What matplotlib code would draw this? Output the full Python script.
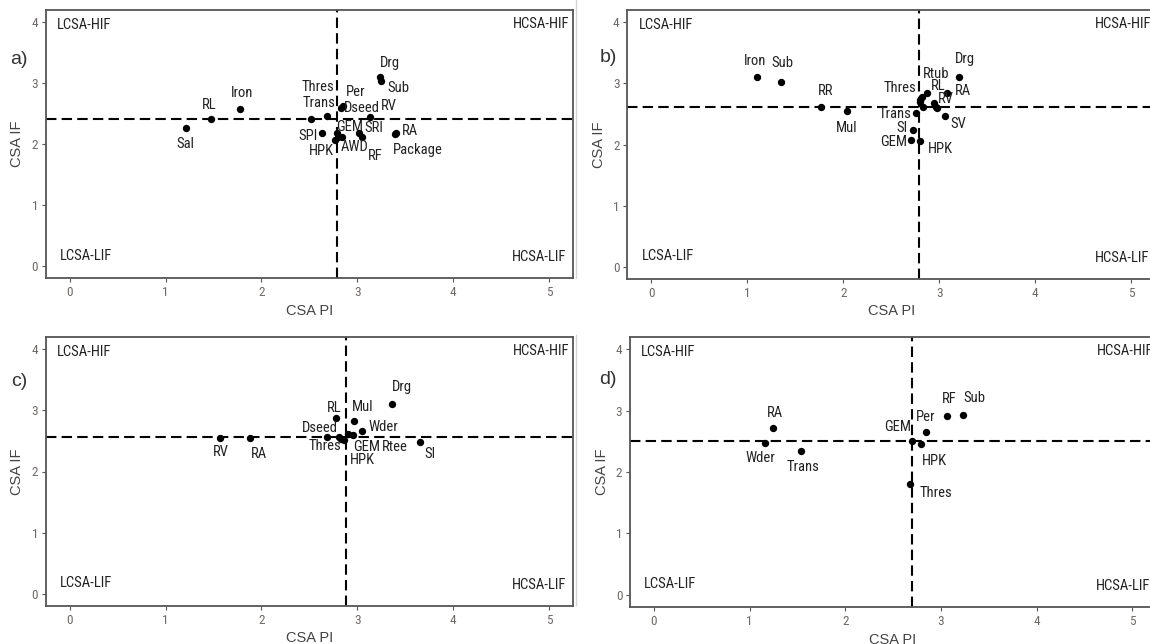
import matplotlib
matplotlib.use("Agg")
import matplotlib.pyplot as plt
from matplotlib import font_manager
from matplotlib.lines import Line2D

# ---------------- data ----------------
a_labels = ["Sal", "RL", "Iron", "Thres", "Trans", "Per", "Dseed", "SPI", "HPK", "GEM",
            "AWD", "SRI", "RF", "RV", "Drg", "Sub", "RA", "Package", ""]
a_pi = [1.21, 1.47, 1.78, 2.52, 2.68, 2.85, 2.83, 2.63, 2.77, 2.79,
        2.84, 3.02, 3.05, 3.13, 3.24, 3.25, 3.40, 3.39, 2.80]
a_if = [2.27, 2.41, 2.58, 2.41, 2.47, 2.62, 2.60, 2.18, 2.07, 2.19,
        2.11, 2.18, 2.11, 2.45, 3.11, 3.04, 2.19, 2.17, 2.12]
a_cut = [2.785, 2.41]

b_labels = ["Iron", "Sub", "RR", "Mul", "Drg", "Rtub", "Thres", "RL", "RA", "RV",
            "SV", "Trans", "SI", "GEM", "HPK", "", "", "", ""]
b_pi = [1.10, 1.35, 1.77, 2.04, 3.20, 2.87, 2.80, 2.94, 3.08, 2.98,
        3.06, 2.76, 2.73, 2.71, 2.80, 2.82, 2.80, 2.83, 2.97]
b_if = [3.10, 3.02, 2.62, 2.55, 3.10, 2.85, 2.73, 2.68, 2.85, 2.59,
        2.47, 2.51, 2.24, 2.07, 2.05, 2.78, 2.70, 2.62, 2.62]
b_cut = [2.79, 2.62]

c_labels = ["RV", "RA", "RL", "Mul", "Drg", "Wder", "Dseed", "Thres", "HPK", "GEM",
            "Rtee", "SI", ""]
c_pi = [1.57, 1.88, 2.78, 2.97, 3.36, 3.05, 2.68, 2.81, 2.86, 2.90, 2.96, 3.65, 2.83]
c_if = [2.55, 2.55, 2.88, 2.83, 3.11, 2.66, 2.57, 2.57, 2.52, 2.61, 2.60, 2.49, 2.53]
c_cut = [2.88, 2.57]

d_labels = ["RA", "Wder", "Trans", "GEM", "Per", "HPK", "RF", "Sub", "Thres"]
d_pi = [1.24, 1.16, 1.54, 2.70, 2.84, 2.79, 3.06, 3.23, 2.68]
d_if = [2.72, 2.47, 2.34, 2.51, 2.65, 2.45, 2.91, 2.93, 1.80]
d_cut = [2.70, 2.51]

panel_tags = ["a)", "b)", "c)", "d)"]
quadrant_names = ["LCSA-HIF", "HCSA-HIF", "LCSA-LIF", "HCSA-LIF"]
x_ticks = [0, 1, 2, 3, 4, 5]
y_ticks = [0, 1, 2, 3, 4]

# ---------------- label placement (pixel offsets, right / down) ----------------
a_off = [(0, 16), (-1, -14), (2, -16), (7, -32), (-8, -13), (13, -14), (21, 0), (-14, 3),
         (-14, 11), (13, -6), (13, 10), (15, -5), (13, 19), (19, -11), (10, -14), (17, 7),
         (14, -2), (23, 16), (0, 0)]
b_off = [(-2, -16), (1, -19), (4, -16), (0, 17), (6, -18), (9, -19), (-20, -12), (5, -17),
         (16, -2), (8, -9), (13, 8), (-21, 1), (-11, -2), (-18, 2), (20, 8),
         (0, 0), (0, 0), (0, 0), (0, 0)]
c_off = [(1, 14), (9, 16), (-2, -10), (8, -14), (10, -17), (21, -4), (-7, -9), (-14, 9),
         (19, 20), (19, 13), (41, 12), (10, 12), (0, 0)]
d_off = [(2, -15), (-4, 15), (2, 16), (-15, -14), (0, -15), (14, 17), (3, -17), (11, -17),
         (26, 9)]

# ---------------- fonts ----------------
available = {f.name for f in font_manager.fontManager.ttflist}
narrow = None
for cand in ["Liberation Sans Narrow", "Arial Narrow", "Roboto Condensed",
             "Open Sans Condensed"]:
    if cand in available:
        narrow = cand
        break
if narrow:
    lab_font = [narrow, "DejaVu Sans"]
    lab_size = 10.5
    tick_font = [narrow, "DejaVu Sans"]
    tick_size = 9.5
else:
    lab_font = ["Liberation Sans", "DejaVu Sans"]
    lab_size = 9.2
    tick_font = ["Liberation Sans", "DejaVu Sans"]
    tick_size = 8.0
main_font = ["Liberation Sans", "DejaVu Sans"]
plt.rcParams["font.family"] = main_font

W, H = 1150, 644
fig = plt.figure(figsize=(W / 100, H / 100), dpi=100)
fig.patch.set_facecolor("white")

# axes rectangles in pixels: left, top, right, bottom
rects = [(45.7, 10.2, 572.9, 278.2),
         (627.3, 10.1, 1155.3, 278.9),
         (45.7, 337.1, 572.9, 605.9),
         (629.9, 337.0, 1156.3, 607.0)]
panels = [(a_labels, a_pi, a_if, a_cut, a_off),
          (b_labels, b_pi, b_if, b_cut, b_off),
          (c_labels, c_pi, c_if, c_cut, c_off),
          (d_labels, d_pi, d_if, d_cut, d_off)]
tag_pos = [(19, 59), (608, 58), (19, 382), (608, 379)]

quad_pos = [(0.15, 3.95), (4.92, 3.97), (0.17, 0.17), (4.90, 0.15)]

border_col = "#555555"
tick_col = "#555555"

for i, ((labels, px, py, cut, off), (l, t, r, b)) in enumerate(zip(panels, rects)):
    ax = fig.add_axes([l / W, 1 - b / H, (r - l) / W, (b - t) / H])
    ax.set_xlim(-0.25, 5.25)
    ax.set_ylim(-0.2, 4.2)
    ax.set_xticks(x_ticks)
    ax.set_yticks(y_ticks)
    ax.tick_params(axis="both", colors=tick_col, labelcolor="#6e6a68",
                   length=3, width=0.8, pad=2.5)
    for lbl in ax.get_xticklabels() + ax.get_yticklabels():
        lbl.set_family(tick_font)
        lbl.set_fontsize(tick_size)
    for sp in ax.spines.values():
        sp.set_color(border_col)
        sp.set_linewidth(1.3)
    ax.set_xlabel("CSA PI", fontsize=10.5, color="#444444", labelpad=3.5)
    ax.set_ylabel("CSA IF", fontsize=10.5, color="#444444", labelpad=5)

    ax.axvline(cut[0], color="black", lw=1.5, ls=(0, (5, 2.5)), zorder=1)
    ax.axhline(cut[1], color="black", lw=1.5, ls=(0, (5, 2.5)), zorder=1)

    ax.scatter(px, py, s=28, color="black", zorder=3, linewidths=0)
    for lab, x, y, (dx, dy) in zip(labels, px, py, off):
        if lab:
            ax.annotate(lab, (x, y), xytext=(dx, -dy), textcoords="offset pixels",
                        ha="center", va="center", fontsize=lab_size,
                        family=lab_font, color="#222222", zorder=4)

    for name, (qx, qy) in zip(quadrant_names, quad_pos):
        ax.text(qx, qy, name, ha="center", va="center", fontsize=lab_size,
                family=lab_font, color="#222222", clip_on=False)

    tx, ty = tag_pos[i]
    fig.text(tx / W, 1 - ty / H, panel_tags[i], ha="center", va="center",
             fontsize=14, color="#333333")

# light separator lines left of the right-hand panels
fig.add_artist(Line2D([576.5 / W, 576.5 / W], [1 - 0 / H, 1 - 278 / H],
                      color="#d5d5d5", lw=1))
fig.add_artist(Line2D([576.5 / W, 576.5 / W], [1 - 335 / H, 1 - 605 / H],
                      color="#d5d5d5", lw=1))

fig.savefig("out.png", dpi=100, facecolor="white")
